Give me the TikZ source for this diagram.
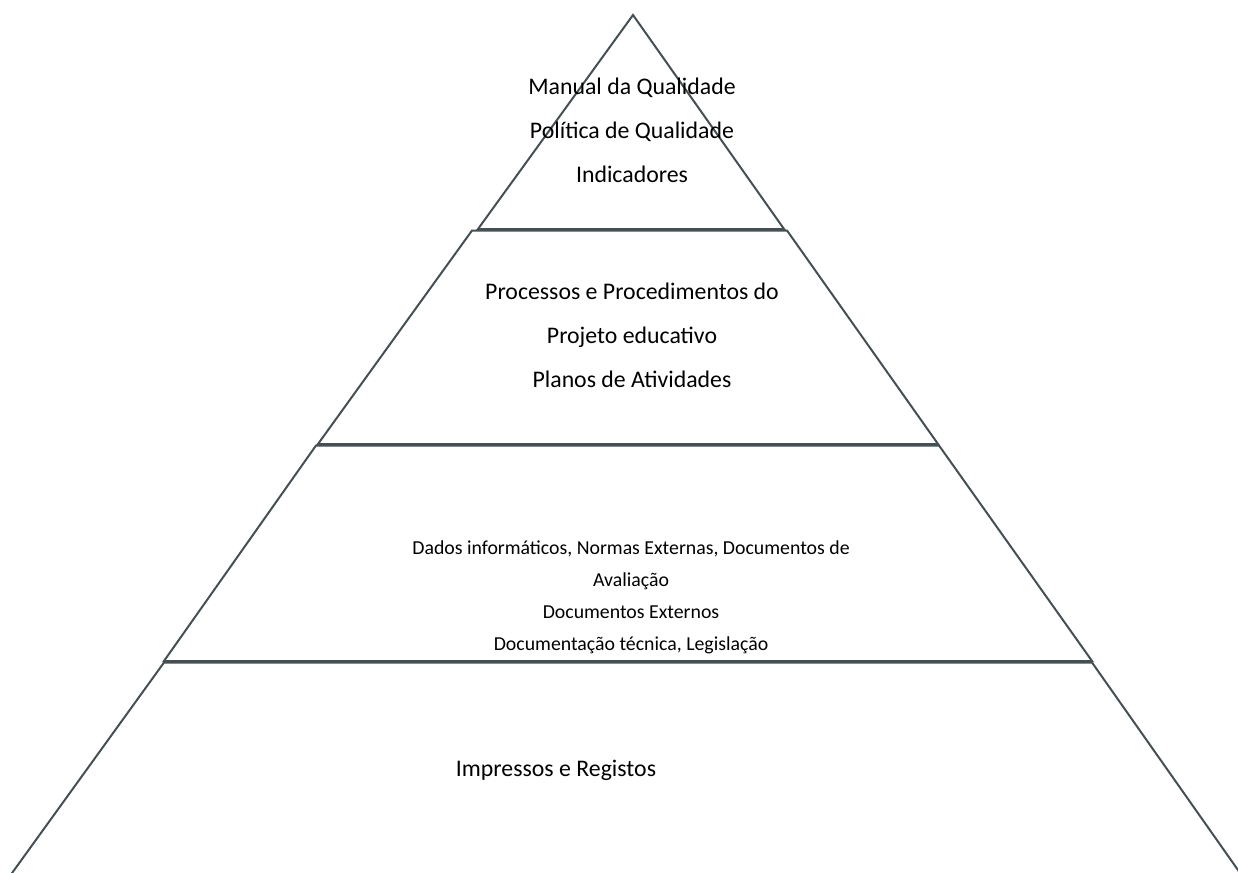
\documentclass[tikz,border=0pt]{standalone}
\usepackage{fontspec}
\setmainfont{Carlito}
\usepackage{tikz}
\tikzset{every picture/.style={line width=2pt}}
\definecolor{pyrline}{RGB}{68,80,84}
\tikzset{tierline/.style={draw=pyrline, line join=miter},
  tiertext/.style={inner sep=0pt, align=center, font=\fontsize{23.8}{44}\selectfont}}

\begin{document}
\begin{tikzpicture}[x=1pt,y=1pt,yscale=-1,xscale=1]
\useasboundingbox (0,0) rectangle (1238,872);
\clip (0,0) rectangle (1238,872);

%Shape: Triangle (top)
\draw [tierline] (633,15) -- (478,229) -- (784,229) -- cycle ;
%Shape: Trapezoid (second)
\draw [tierline] (472,230.5) -- (787,230.5) -- (938,444) -- (318,444) -- cycle ;
%Shape: Trapezoid (third)
\draw [tierline] (316,445.5) -- (939,445.5) -- (1092,661) -- (164,661) -- cycle ;
%Shape: Trapezoid (base)
\draw [tierline] (164,662.5) -- (1092,662.5) -- (1245,880) -- (7,880) -- cycle ;

% Text Node
\node [tiertext] (topTxt) at (632,130) {Manual da Qualidade\\Política de Qualidade\\Indicadores};
% Text Node
\node [tiertext] (procTxt) at (632,335) {Processos e Procedimentos do\\Projeto educativo\\Planos de Atividades};
% Text Node
\node [tiertext, font=\fontsize{19.8}{32}\selectfont] (docTxt) at (631,597) {Dados informáticos, Normas Externas, Documentos de\\Avaliação\\Documentos Externos\\Documentação técnica, Legislação};
% Text Node
\node [tiertext] (regTxt) at (556,770) {Impressos e Registos};

\end{tikzpicture}
\end{document}
